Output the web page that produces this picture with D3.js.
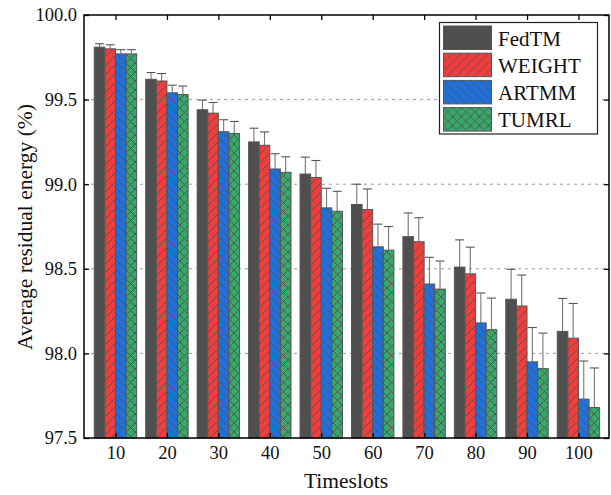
<!DOCTYPE html>
<html>
<head>
<meta charset="utf-8">
<script src="https://cdn.jsdelivr.net/npm/d3@7"></script>
<style>
  html, body { margin: 0; padding: 0; background: #fff; }
  svg { display: block; }
  svg text { font-family: "Liberation Serif", "Times New Roman", serif; }
</style>
</head>
<body>
<svg id="chart" width="611" height="495"></svg>
<script>
// Time slots on the x axis
const timeslots = [10, 20, 30, 40, 50, 60, 70, 80, 90, 100];

// Method names, in drawing order
const methods = ["FedTM", "WEIGHT", "ARTMM", "TUMRL"];

// Average residual energy (%) per method
const fedtmEnergy  = [99.81, 99.62, 99.44, 99.25, 99.06, 98.88, 98.69, 98.51, 98.32, 98.13];
const weightEnergy = [99.80, 99.61, 99.42, 99.23, 99.04, 98.85, 98.66, 98.47, 98.28, 98.09];
const artmmEnergy  = [99.77, 99.54, 99.31, 99.09, 98.86, 98.63, 98.41, 98.18, 97.95, 97.73];
const tumrlEnergy  = [99.77, 99.53, 99.30, 99.07, 98.84, 98.61, 98.38, 98.14, 97.91, 97.68];

// Upper error bar lengths per method
const fedtmError  = [0.020, 0.040, 0.057, 0.081, 0.100, 0.120, 0.140, 0.161, 0.177, 0.195];
const weightError = [0.024, 0.044, 0.063, 0.079, 0.100, 0.122, 0.142, 0.158, 0.183, 0.205];
const artmmError  = [0.025, 0.045, 0.071, 0.090, 0.116, 0.134, 0.158, 0.177, 0.203, 0.225];
const tumrlError  = [0.025, 0.050, 0.071, 0.092, 0.118, 0.140, 0.166, 0.187, 0.210, 0.234];

// Y axis ticks
const yTicks = [97.5, 98.0, 98.5, 99.0, 99.5, 100.0];
const gridValues = [98.0, 98.5, 99.0, 99.5];

const energyByMethod = [fedtmEnergy, weightEnergy, artmmEnergy, tumrlEnergy];
const errorByMethod = [fedtmError, weightError, artmmError, tumrlError];

const fills = { FedTM: "#4f4f4f", WEIGHT: "#f23d3d", ARTMM: "#1f6fdd", TUMRL: "#36a96b" };
const hatchColor = "#555";
const serif = "'Liberation Serif', 'Times New Roman', serif";

const plot = { left: 84, top: 15, right: 609, bottom: 438 };

const svg = d3.select("#chart");

const x = d3.scaleLinear().domain([3.88, 105.94]).range([plot.left, plot.right]);
const y = d3.scaleLinear().domain([97.5, 100]).range([plot.bottom, plot.top]);
const barW = 10.6;
const inner = d3.scaleBand().domain(methods).range([-2 * barW, 2 * barW]);

// Hatch patterns
const defs = svg.append("defs");
function makePattern(id, bg, paths) {
  const p = defs.append("pattern")
    .attr("id", id)
    .attr("patternUnits", "userSpaceOnUse")
    .attr("width", 9).attr("height", 9);
  p.append("rect").attr("width", 9).attr("height", 9).attr("fill", bg);
  paths.forEach(d => p.append("path").attr("d", d)
    .attr("stroke", hatchColor).attr("stroke-width", 1).attr("fill", "none"));
}
const fwd = "M-1,10 L10,-1 M-3,3 L3,-3 M6,12 L12,6";
const back = "M-1,-1 L10,10 M-3,6 L3,12 M6,-3 L12,3";
makePattern("pat-WEIGHT", fills.WEIGHT, [fwd]);
makePattern("pat-ARTMM", fills.ARTMM, [back]);
makePattern("pat-TUMRL", fills.TUMRL, [fwd, back]);
const fillFor = m => m === "FedTM" ? fills.FedTM : `url(#pat-${m})`;

// Dashed grid lines
svg.append("g").selectAll("line").data(gridValues).join("line")
  .attr("x1", plot.left).attr("x2", plot.right)
  .attr("y1", d => y(d)).attr("y2", d => y(d))
  .attr("stroke", "#9a9a9a").attr("stroke-width", 1)
  .attr("stroke-dasharray", "3,4");

// Flatten data into one record per bar
const bars = [];
timeslots.forEach((t, i) => {
  methods.forEach((m, j) => {
    bars.push({ t, m, v: energyByMethod[j][i], e: errorByMethod[j][i] });
  });
});
const barX = d => x(d.t) + inner(d.m);

// Error bars (upper whisker)
const eb = svg.append("g");
eb.selectAll("line.stem").data(bars).join("line")
  .attr("class", "stem")
  .attr("x1", d => barX(d) + barW / 2).attr("x2", d => barX(d) + barW / 2)
  .attr("y1", d => y(d.v)).attr("y2", d => y(d.v + d.e))
  .attr("stroke", "#777").attr("stroke-width", 1.1);
eb.selectAll("line.cap").data(bars).join("line")
  .attr("class", "cap")
  .attr("x1", d => barX(d) + barW / 2 - 4.5).attr("x2", d => barX(d) + barW / 2 + 4.5)
  .attr("y1", d => y(d.v + d.e)).attr("y2", d => y(d.v + d.e))
  .attr("stroke", "#555").attr("stroke-width", 1.1);

// Bars
svg.append("g").selectAll("rect").data(bars).join("rect")
  .attr("x", d => barX(d))
  .attr("y", d => y(d.v))
  .attr("width", barW)
  .attr("height", d => y(97.5) - y(d.v))
  .attr("fill", d => fillFor(d.m))
  .attr("stroke", "#555").attr("stroke-width", 1);

// Axes
const tickFont = 18.5;
const gLeft = svg.append("g").attr("transform", `translate(${plot.left},0)`)
  .call(d3.axisLeft(y).tickValues(yTicks).tickFormat(d3.format(".1f"))
    .tickSizeInner(-5).tickSizeOuter(0).tickPadding(7));
const gRight = svg.append("g").attr("transform", `translate(${plot.right},0)`)
  .call(d3.axisRight(y).tickValues(yTicks).tickFormat("")
    .tickSizeInner(-5).tickSizeOuter(0));
const gBottom = svg.append("g").attr("transform", `translate(0,${plot.bottom})`)
  .call(d3.axisBottom(x).tickValues(timeslots).tickFormat(d3.format("d"))
    .tickSizeInner(-5).tickSizeOuter(0).tickPadding(8));
const gTop = svg.append("g").attr("transform", `translate(0,${plot.top})`)
  .call(d3.axisTop(x).tickValues(timeslots).tickFormat("")
    .tickSizeInner(-5).tickSizeOuter(0));

[gLeft, gRight, gBottom, gTop].forEach(g => {
  g.attr("font-family", serif);
  g.select(".domain").remove();
  g.selectAll(".tick line").attr("stroke", "#000").attr("stroke-width", 1.3);
  g.selectAll(".tick text").attr("fill", "#111")
    .style("font-family", serif)
    .style("font-size", tickFont + "px");
});

// Frame
svg.append("rect")
  .attr("x", plot.left).attr("y", plot.top)
  .attr("width", plot.right - plot.left).attr("height", plot.bottom - plot.top)
  .attr("fill", "none").attr("stroke", "#000").attr("stroke-width", 1.5);

// Axis titles
svg.append("text")
  .attr("x", (plot.left + plot.right) / 2 - 0.5).attr("y", 488)
  .attr("text-anchor", "middle")
  .style("font-family", serif)
  .attr("font-size", 21.5).attr("fill", "#111")
  .text("Timeslots");
svg.append("text")
  .attr("transform", "translate(32,227) rotate(-90)")
  .attr("text-anchor", "middle")
  .style("font-family", serif)
  .attr("font-size", 21.5).attr("fill", "#111")
  .text("Average residual energy (%)");

// Legend
const legend = svg.append("g");
legend.append("rect")
  .attr("x", 439.5).attr("y", 22.5).attr("width", 158).attr("height", 111.5)
  .attr("fill", "#fff").attr("stroke", "#222").attr("stroke-width", 1.2);
const rows = legend.selectAll("g.row").data(methods).join("g")
  .attr("class", "row")
  .attr("transform", (d, i) => `translate(443.5,${26 + i * 27.2})`);
rows.append("rect")
  .attr("width", 48).attr("height", 23.5)
  .attr("fill", d => fillFor(d))
  .attr("stroke", "#555").attr("stroke-width", 1);
rows.append("text")
  .attr("x", 54.5).attr("y", 19.5)
  .style("font-family", serif)
  .style("font-size", "21px").attr("fill", "#111")
  .text(d => d);
</script>
</body>
</html>
